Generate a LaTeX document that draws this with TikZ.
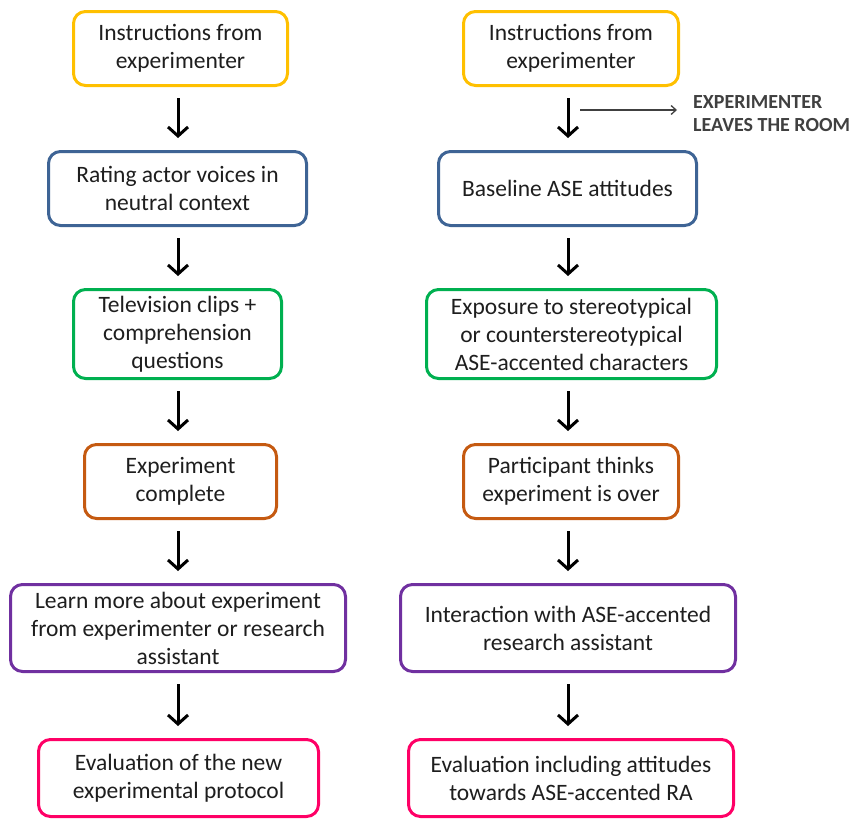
\documentclass[tikz,border=0pt]{standalone}
\usepackage{fontspec}
\setmainfont{Carlito}
\usetikzlibrary{arrows.meta}
\definecolor{cyel}{HTML}{FFC000}
\definecolor{cblu}{HTML}{3E6495}
\definecolor{cgrn}{HTML}{00B050}
\definecolor{corg}{HTML}{C55A11}
\definecolor{cpur}{HTML}{7030A0}
\definecolor{cpnk}{HTML}{FF0066}
\definecolor{ctxt}{HTML}{1E1E1E}
\tikzset{
  box/.style={draw, line width=3pt, rounded corners=12pt, align=center, fill=white,
    text=ctxt, font=\fontsize{23.5}{28}\selectfont, inner sep=0pt},
  arr/.style={line width=3pt, -{Straight Barb[length=9pt,width=20pt,line width=3pt]},
    shorten <=11pt, shorten >=12pt},
  thin/.style={line width=1.3pt, draw=black!75, -{Straight Barb[length=5pt,width=9pt]}},
  note/.style={font=\bfseries\fontsize{20}{23}\selectfont, text=black!75, align=left, anchor=west, inner sep=0pt}
}
\begin{document}
\begin{tikzpicture}[x=1pt,y=1pt]
\useasboundingbox (0,0) rectangle (855,-819);
% left column
\node[box, draw=cyel, minimum width=214pt, minimum height=74pt] (L1) at (180.5,-48.5) {Instructions from\\experimenter};
\node[box, draw=cblu, minimum width=258pt, minimum height=74pt] (L2) at (177.5,-188.5) {Rating actor voices in\\neutral context};
\node[box, draw=cgrn, minimum width=208pt, minimum height=89pt] (L3) at (177.5,-334) {Television clips +\\comprehension\\questions};
\node[box, draw=corg, minimum width=192pt, minimum height=74pt] (L4) at (180.5,-481.5) {Experiment\\complete};
\node[box, draw=cpur, minimum width=335pt, minimum height=87pt] (L5) at (178,-628) {Learn more about experiment\\from experimenter or research\\assistant};
\node[box, draw=cpnk, minimum width=280pt, minimum height=77pt] (L6) at (178.5,-778) {Evaluation of the new\\experimental protocol};
% right column
\node[box, draw=cyel, minimum width=215pt, minimum height=74pt] (R1) at (571,-48.5) {Instructions from\\experimenter};
\node[box, draw=cblu, minimum width=258pt, minimum height=74pt] (R2) at (567.5,-188.5) {Baseline ASE attitudes};
\node[box, draw=cgrn, minimum width=290pt, minimum height=89pt] (R3) at (571.5,-334) {Exposure to stereotypical\\or counterstereotypical\\ASE-accented characters};
\node[box, draw=corg, minimum width=215pt, minimum height=74pt] (R4) at (571,-481.5) {Participant thinks\\experiment is over};
\node[box, draw=cpur, minimum width=335pt, minimum height=87pt] (R5) at (568,-628) {Interaction with ASE-accented\\research assistant};
\node[box, draw=cpnk, minimum width=325pt, minimum height=77pt] (R6) at (571,-778) {Evaluation including attitudes\\towards ASE-accented RA};
% column axes
\coordinate (colL) at (178,0);
\coordinate (colR) at (568,0);
\foreach \a/\b in {L1/L2,L2/L3,L3/L4,L4/L5,L5/L6}
  \draw[arr] (\a.south -| colL) -- (\b.north -| colL);
\foreach \a/\b in {R1/R2,R2/R3,R3/R4,R4/R5,R5/R6}
  \draw[arr] (\a.south -| colR) -- (\b.north -| colR);
% side note
\node[note] (note) at (693,-113.5) {EXPERIMENTER\\LEAVES THE ROOM};
\coordinate (ns) at (580,-110);
\coordinate (ne) at (677,-110);
\draw[thin] (ns) -- (ne);
\end{tikzpicture}
\end{document}
